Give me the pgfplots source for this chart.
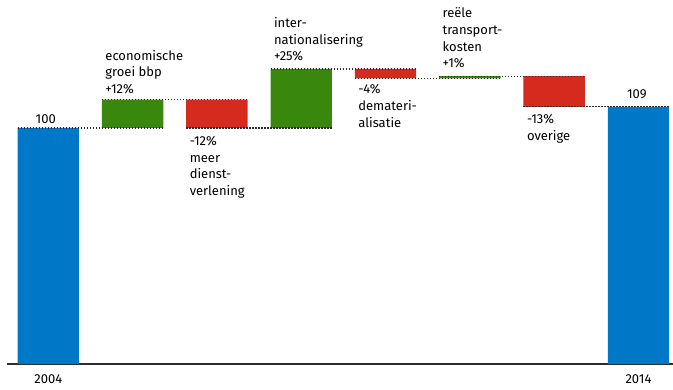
\documentclass[border=0pt]{standalone}
\usepackage{fontspec}
\setmainfont{Fira Sans}
\usepackage{pgfplots}
\pgfplotsset{compat=1.18}
\definecolor{cblue}{RGB}{0,120,200}
\definecolor{cgreen}{RGB}{58,135,14}
\definecolor{cred}{RGB}{213,43,30}
\definecolor{cline}{RGB}{45,45,45}
\pgfplotsset{common/.style={scale only axis, width=666.3pt, height=364pt,
  xmin=-0.4934, xmax=7.4095, ymin=0, ymax=154.24, clip=false}}
\begin{document}
\begin{tikzpicture}
\begin{axis}[name=ax, common,
  axis x line*=bottom, axis y line=none,
  x axis line style={cline, line width=1.1pt, -},
  xtick={0,7}, xticklabels={2004,2014}, major tick length=0pt,
  xticklabel style={anchor=base, yshift=-20pt, inner sep=0pt},
  ybar stacked, bar width=0.728,
  font=\fontsize{13}{16}\selectfont,
  every node/.style={inner sep=0pt},
]
% invisible base
\addplot[draw=none, fill=none] coordinates {(0,0)(1,100)(2,100)(3,100)(4,121)(5,121)(6,109)(7,0)};
% start / end
\addplot[draw=none, fill=cblue] coordinates {(0,100)(1,0)(2,0)(3,0)(4,0)(5,0)(6,0)(7,109)};
% increases
\addplot[draw=none, fill=cgreen] coordinates {(0,0)(1,12)(2,0)(3,25)(4,0)(5,1)(6,0)(7,0)};
% decreases
\addplot[draw=none, fill=cred] coordinates {(0,0)(1,0)(2,12)(3,0)(4,4)(5,0)(6,13)(7,0)};

% value labels
\node[anchor=base] at (axis cs:-0.03,102.0) {100};
\node[anchor=base] at (axis cs:6.98,112.3) {109};
% green labels
\node[anchor=base west] at (axis cs:0.636,128.8) {economische};
\node[anchor=base west] at (axis cs:0.636,121.8) {groei bbp};
\node[anchor=base west] at (axis cs:0.636,114.8) {+12\%};
\node[anchor=base west] at (axis cs:2.636,142.4) {inter-};
\node[anchor=base west] at (axis cs:2.636,135.4) {nationalisering};
\node[anchor=base west] at (axis cs:2.636,128.4) {+25\%};
\node[anchor=base west] at (axis cs:4.636,147.0) {reële};
\node[anchor=base west] at (axis cs:4.636,139.8) {transport-};
\node[anchor=base west] at (axis cs:4.636,132.6) {kosten};
\node[anchor=base west] at (axis cs:4.636,125.8) {+1\%};
% red labels
\node[anchor=base west] at (axis cs:1.636,92.4) {-12\%};
\node[anchor=base west] at (axis cs:1.636,85.2) {meer};
\node[anchor=base west] at (axis cs:1.636,78.4) {dienst-};
\node[anchor=base west] at (axis cs:1.636,71.6) {verlening};
\node[anchor=base west] at (axis cs:3.636,114.8) {-4\%};
\node[anchor=base west] at (axis cs:3.636,107.6) {demateri-};
\node[anchor=base west] at (axis cs:3.636,100.4) {alisatie};
\node[anchor=base west] at (axis cs:5.636,101.7) {-13\%};
\node[anchor=base west] at (axis cs:5.636,94.9) {overige};
\end{axis}
\begin{axis}[common, at={(ax.south west)}, anchor=south west, hide axis]
\pgfplotsset{conn/.style={cline, no markers, line width=1.1pt, dash pattern=on 1.3pt off 1.7pt}}
\addplot[conn] coordinates {(-0.364,100)(1.364,100)};
\addplot[conn] coordinates {(0.636,112)(2.364,112)};
\addplot[conn] coordinates {(1.636,100)(3.364,100)};
\addplot[conn] coordinates {(2.636,125)(4.364,125)};
\addplot[conn] coordinates {(3.636,121)(5.364,121)};
\addplot[conn] coordinates {(4.636,122)(6.364,122)};
\addplot[conn] coordinates {(5.636,109)(7.364,109)};
\end{axis}
\pgfresetboundingbox
\path[use as bounding box] ([xshift=-6.7pt,yshift=-26pt]ax.south west) rectangle (ax.north east);
\end{tikzpicture}
\end{document}
